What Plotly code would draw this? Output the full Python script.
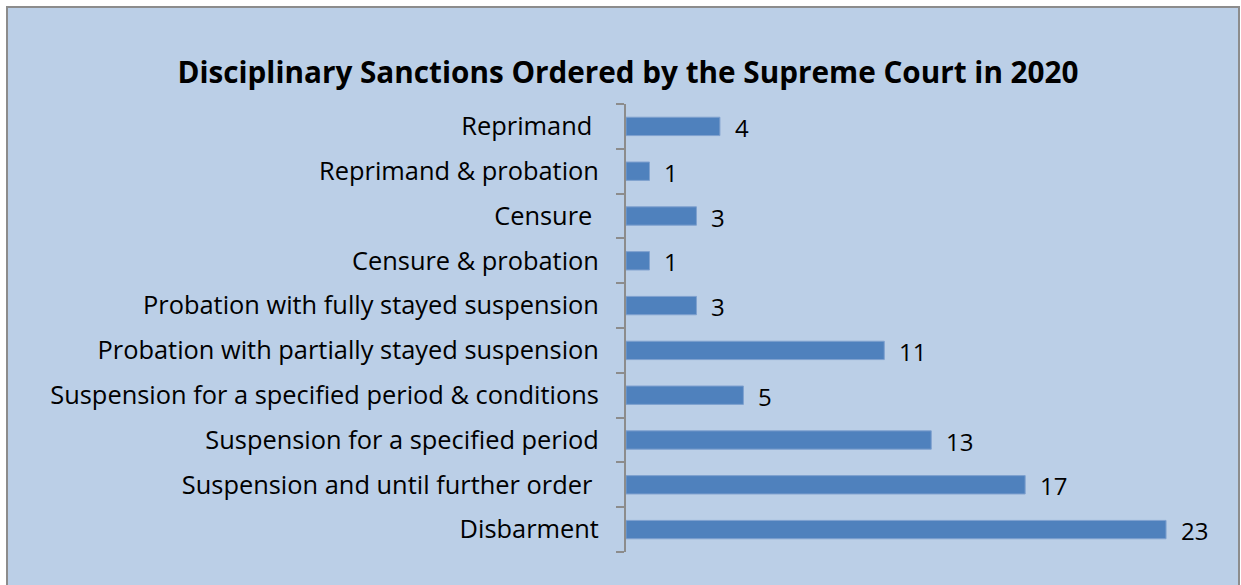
import plotly.graph_objects as go

categories = [
    "Reprimand\u00a0",
    "Reprimand & probation",
    "Censure\u00a0",
    "Censure & probation",
    "Probation with fully stayed suspension",
    "Probation with partially stayed suspension",
    "Suspension for a specified period & conditions",
    "Suspension for a specified period",
    "Suspension and until further order\u00a0",
    "Disbarment",
]
values = [4, 1, 3, 1, 3, 11, 5, 13, 17, 23]
title_text = "Disciplinary Sanctions Ordered by the Supreme Court in 2020"

W, H = 1241, 585
L, R, T, B = 626, 28, 104, 33
pw, ph = W - L - R, H - T - B

def px_x(p):
    return (p - L) / pw

def px_y(p):
    return (H - B - p) / ph

FONT = "Open Sans"
fig = go.Figure()
fig.add_trace(go.Bar(
    x=values, y=categories, orientation="h",
    marker=dict(color="#4F81BD", line=dict(color="#7FA1CF", width=1)),
    width=0.41, hoverinfo="x+y",
))
for c, v in zip(categories, values):
    fig.add_annotation(x=v, y=c, text=str(v), showarrow=False, xanchor="left",
                       xshift=13, yshift=-1, font=dict(family=FONT, size=24, color="#000000"))

fig.add_shape(type="rect", xref="paper", yref="paper",
              x0=px_x(7), x1=px_x(1239), y0=px_y(600), y1=px_y(7),
              fillcolor="#BBCFE7", line=dict(color="#8C8C8C", width=2), layer="below")

fig.update_layout(
    width=W, height=H,
    margin=dict(l=L, r=R, t=T, b=B),
    paper_bgcolor="#FFFFFF", plot_bgcolor="rgba(0,0,0,0)",
    showlegend=False,
    title=dict(text="<b>" + title_text + "</b>", x=px_x(628), xref="paper", xanchor="center",
               y=1 - 73 / H, yanchor="middle",
               font=dict(family=FONT, size=29.7, color="#000000")),
    xaxis=dict(range=[0, 25], visible=False, fixedrange=True),
    yaxis=dict(categoryorder="array", categoryarray=categories[::-1],
               range=[-0.5, len(categories) - 0.5],
               showline=True, linecolor="#8C8C8C", linewidth=2,
               ticks="outside", ticklen=8, tickcolor="#8C8C8C", tickwidth=2,
               tickson="boundaries", showgrid=False, ticklabelstandoff=20,
               tickfont=dict(family=FONT, size=25.4, color="#000000"), fixedrange=True),
)
fig.write_html("out.html", config={"displayModeBar": False},
               post_script="document.body.style.margin='0';")
